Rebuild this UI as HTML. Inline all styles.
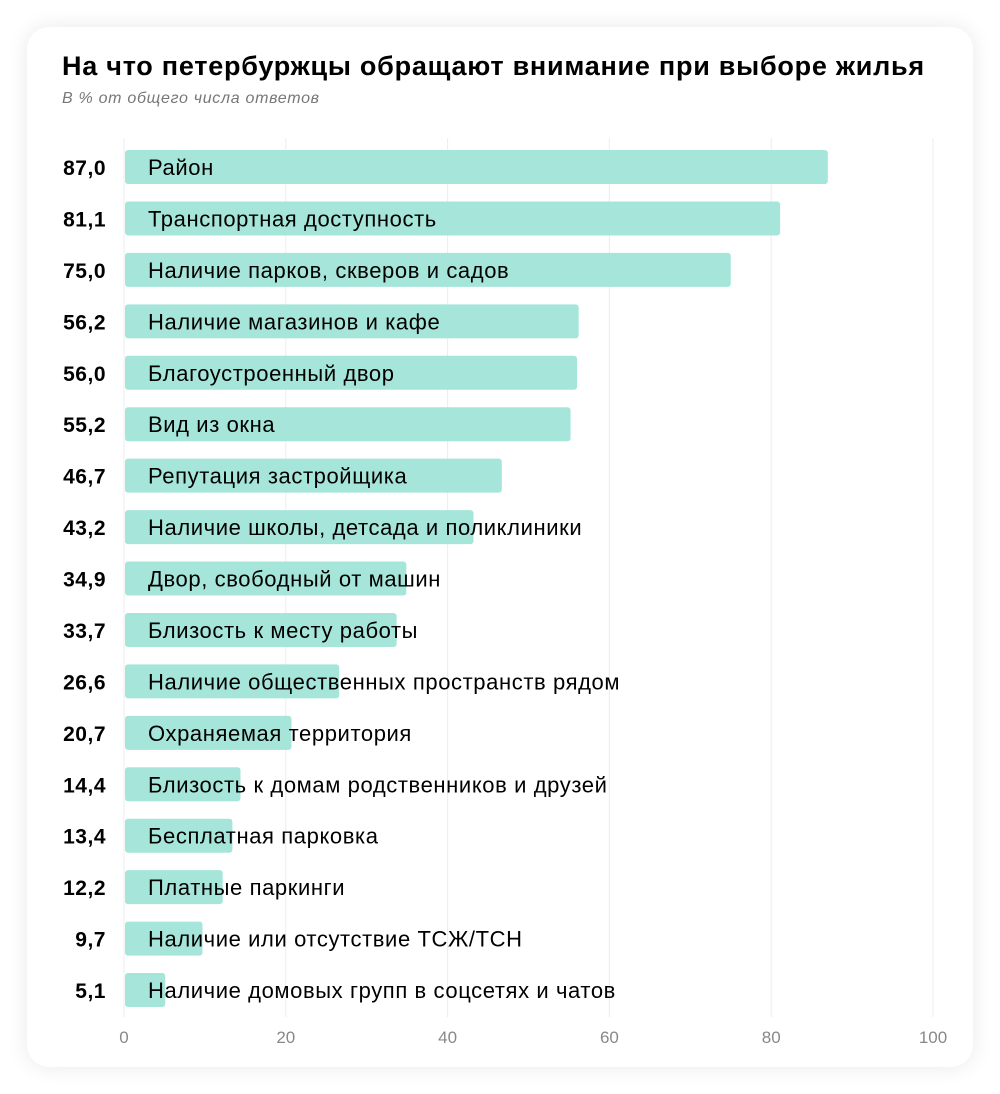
<!DOCTYPE html>
<html><head><meta charset="utf-8"><style>
body{margin:0;width:1000px;height:1094px;background:#fff;font-family:"Liberation Sans","DejaVu Sans",sans-serif;overflow:hidden}
#card{position:absolute;left:27px;top:27px;width:946px;height:1040px;background:#fff;border-radius:22px;box-shadow:0 0 22px rgba(0,0,0,0.09)}
#title{position:absolute;left:62px;top:51px;font-size:27px;font-weight:bold;color:#000;white-space:nowrap;letter-spacing:0.75px}
#sub{position:absolute;left:62px;top:90px;font-size:16px;font-style:italic;color:#777;letter-spacing:0.7px}
svg{position:absolute;left:0;top:0}
</style></head><body>
<div id="card"></div>
<div id="title">На что петербуржцы обращают внимание при выборе жилья</div>
<div id="sub">В % от общего числа ответов</div>
<svg id="chart" width="1000" height="1094"></svg>
<script>
const categories=["Район","Транспортная доступность","Наличие парков, скверов и садов","Наличие магазинов и кафе","Благоустроенный двор","Вид из окна","Репутация застройщика","Наличие школы, детсада и поликлиники","Двор, свободный от машин","Близость к месту работы","Наличие общественных пространств рядом","Охраняемая территория","Близость к домам родственников и друзей","Бесплатная парковка","Платные паркинги","Наличие или отсутствие ТСЖ/ТСН","Наличие домовых групп в соцсетях и чатов"];
const values=[87.0,81.1,75.0,56.2,56.0,55.2,46.7,43.2,34.9,33.7,26.6,20.7,14.4,13.4,12.2,9.7,5.1];
const ticks=[0,20,40,60,80,100];
const svg=document.getElementById('chart');
const NS='http://www.w3.org/2000/svg';
const x=v=>124+v*8.09;
const y=i=>150+i*51.44;
function mk(t,a){const e=document.createElementNS(NS,t);for(const k in a)e.setAttribute(k,a[k]);svg.appendChild(e);return e;}
ticks.forEach(t=>{
  const l=mk('line',{x1:x(t),x2:x(t),y1:138,y2:1017,stroke:'#ececec','stroke-width':1});
  
  
  const tx=mk('text',{x:x(t),y:1043,'text-anchor':'middle','font-size':17,fill:'#888'});
  tx.textContent=t;
  
  
});
values.forEach((v,i)=>{
  const r=mk('rect',{x:x(0)+1,y:y(i),width:x(v)-x(0)-1,height:34,rx:3,fill:'#a6e5d9'});
  
  
  const val=mk('text',{x:106,y:y(i)+25,'text-anchor':'end','font-size':21,'font-weight':'bold',fill:'#000','letter-spacing':0.5});
  val.textContent=v.toFixed(1).replace('.',',');
  
  
  const lab=mk('text',{x:148,y:y(i)+25,'font-size':22,fill:'#000','letter-spacing':0.6});
  lab.textContent=categories[i];
  
  
});
</script>
</body></html>
